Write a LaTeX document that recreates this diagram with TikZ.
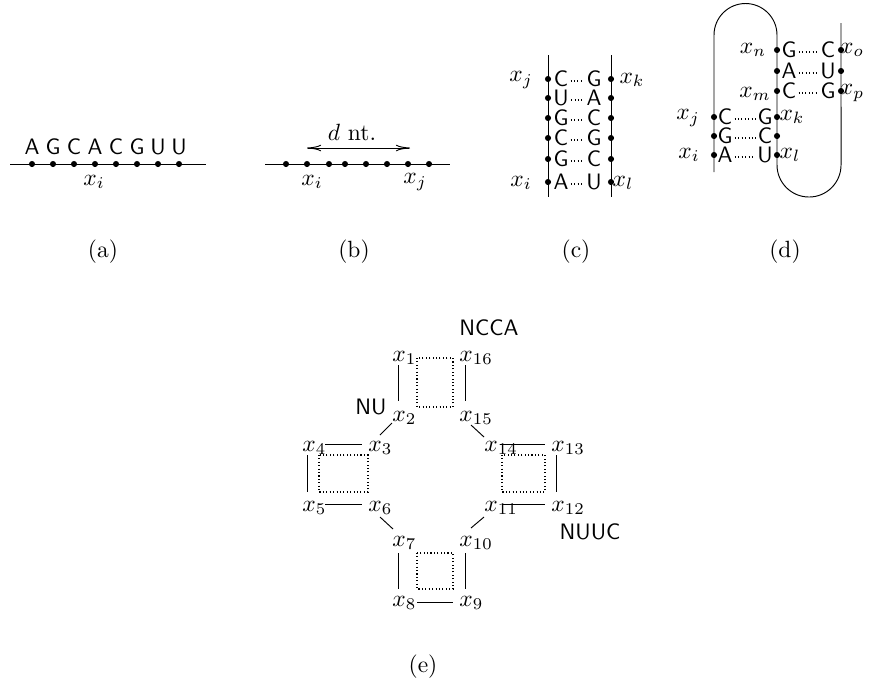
\documentclass[tikz,border=0pt]{standalone}
\usepackage{tikz}
\usetikzlibrary{arrows.meta, positioning}

\begin{document}
\begin{tikzpicture}[
    x=0.4255pt, y=-0.4255pt,
    nt/.style={circle, fill=black, inner sep=0pt, minimum size=2.6pt},
    base/.style={font=\fontsize{9.5}{11}\sffamily, inner sep=0pt},
    tag/.style={font=\fontsize{9.5}{11}\sffamily},
    lbl/.style={inner sep=0pt, anchor=west},
    strand/.style={line width=0.4pt},
    pair/.style={line width=0.45pt, dash pattern=on 0.45pt off 1pt},
    loopbox/.style={line width=0.45pt, dash pattern=on 0.45pt off 1pt},
    dist/.style={{To[length=6pt,width=2.8pt]}-{To[length=6pt,width=2.8pt]}, line width=0.4pt}
  ]
  \useasboundingbox (0,0) rectangle (869,686);

  % (a) sequence
  \coordinate (a0) at (10,164);
  \coordinate (a9) at (206,164);
  \draw[strand] (a0) -- (a9);
  \foreach \b [count=\k] in {A,G,C,A,C,G,U,U} {
    \node[nt] (a\k) at ({11+21*\k},164) {};
    \node[base] (ab\k) at ({11+21*\k},147) {\b};
  }
  \node (axi) at (94,182) {$x_i$};
  \node (capa) at (103,252) {(a)};

  % (b) distance
  \coordinate (b0) at (265,164);
  \coordinate (b9) at (450,164);
  \draw[strand] (b0) -- (b9);
  \foreach \x [count=\k] in {286,307,329,345,366,387,408,429}
    \node[nt] (b\k) at (\x,164) {};
  \node (bxi) at (312,182) {$x_i$};
  \node (bxj) at (415,182) {$x_j$};
  \draw[dist] ([shift={(0,-16)}]b2.center) -- ([shift={(2,-16)}]b7.center);
  \node (bd) at (352,132) {$d$ nt.};
  \node (capb) at (354,252) {(b)};

  % (c) helix
  \coordinate (c0) at (548,55);
  \coordinate (c9) at (548,197);
  \coordinate (c10) at (611,55);
  \coordinate (c19) at (611,197);
  \draw[strand] (c0) -- (c9);
  \draw[strand] (c10) -- (c19);
  \foreach \l/\r/\y [count=\k] in {C/G/79,U/A/98,G/C/118,C/G/138,G/C/159,A/U/182} {
    \node[nt] (cl\k) at (548,\y) {};
    \node[nt] (cr\k) at (611,\y) {};
    \node[base] (cbl\k) at (561,\y) {\l};
    \node[base] (cbr\k) at (594,\y) {\r};
    \draw[pair] ([shift={(2,2)}]cbl\k.east) -- ([shift={(-2,2)}]cbr\k.west);
  }
  \node (cxj) at (521,80) {$x_j$};
  \node (cxk) at (632,80) {$x_k$};
  \node (cxi) at (521,183) {$x_i$};
  \node (cxl) at (623,183) {$x_l$};
  \node (capc) at (576,252) {(c)};

  % (d) pseudoknot
  \coordinate (d0) at (714,172);
  \coordinate (d9) at (841,23);
  \draw[strand] (d0) -- (714,35) arc[start angle=180, end angle=0, radius=13.4pt]
    -- (777,165) arc[start angle=180, end angle=360, radius=13.62pt] -- (d9);
  \foreach \l/\r/\y [count=\k] in {G/C/50,A/U/71,C/G/91} {
    \node[nt] (dtl\k) at (777,\y) {};
    \node[nt] (dtr\k) at (841,\y) {};
    \node[base] (dtbl\k) at (789,\y) {\l};
    \node[base] (dtbr\k) at (828,\y) {\r};
    \draw[pair] ([shift={(2,2)}]dtbl\k.east) -- ([shift={(-2,2)}]dtbr\k.west);
  }
  \foreach \l/\r/\y [count=\k] in {C/G/117,G/C/136,A/U/155} {
    \node[nt] (dbl\k) at (714,\y) {};
    \node[nt] (dbr\k) at (777,\y) {};
    \node[base] (dbbl\k) at (725,\y) {\l};
    \node[base] (dbbr\k) at (765,\y) {\r};
    \draw[pair] ([shift={(2,2)}]dbbl\k.east) -- ([shift={(-2,2)}]dbbr\k.west);
  }
  \node (dxn) at (753,50) {$x_n$};
  \node (dxo) at (852,50) {$x_o$};
  \node (dxm) at (755,94) {$x_m$};
  \node (dxp) at (852,93) {$x_p$};
  \node (dxj) at (688,118) {$x_j$};
  \node (dxk) at (792,117) {$x_k$};
  \node (dxi) at (689,155) {$x_i$};
  \node (dxl) at (790,155) {$x_l$};
  \node (capd) at (785,252) {(d)};

  % (e) cloverleaf
  \node[lbl] (x1) at (392,358) {$x_{1}$};
  \node[lbl] (x16) at (459,358) {$x_{16}$};
  \node[lbl] (x2) at (392,418) {$x_{2}$};
  \node[lbl] (x15) at (459,418) {$x_{15}$};
  \node[lbl] (x4) at (302,448) {$x_{4}$};
  \node[lbl] (x3) at (368,448) {$x_{3}$};
  \node[lbl] (x14) at (484,448) {$x_{14}$};
  \node[lbl] (x13) at (551,448) {$x_{13}$};
  \node[lbl] (x5) at (302,508) {$x_{5}$};
  \node[lbl] (x6) at (368,508) {$x_{6}$};
  \node[lbl] (x11) at (484,508) {$x_{11}$};
  \node[lbl] (x12) at (551,508) {$x_{12}$};
  \node[lbl] (x7) at (392,543) {$x_{7}$};
  \node[lbl] (x10) at (459,543) {$x_{10}$};
  \node[lbl] (x8) at (392,603) {$x_{8}$};
  \node[lbl] (x9) at (459,603) {$x_{9}$};
  \node[tag] (ncca) at (489,328) {NCCA};
  \node[tag] (nu) at (371,407) {NU};
  \node[tag] (nuuc) at (590,532) {NUUC};

  \draw[strand] ([shift={(6,7)}]x1.west) -- ([shift={(6,-17)}]x2.west);
  \draw[strand] ([shift={(6,7)}]x16.west) -- ([shift={(6,-17)}]x15.west);
  \draw[strand] ([shift={(0,5)}]x2.west) -- ([shift={(12,-13)}]x3.west);
  \draw[strand] ([shift={(12,7)}]x15.west) -- ([shift={(0,-11)}]x14.west);
  \draw[strand] ([shift={(23,-4)}]x4.west) -- ([shift={(-6,-4)}]x3.west);
  \draw[strand] ([shift={(5,7)}]x4.west) -- ([shift={(5,-16)}]x5.west);
  \draw[strand] ([shift={(23,-4)}]x5.west) -- ([shift={(-6,-4)}]x6.west);
  \draw[strand] ([shift={(12,9)}]x6.west) -- ([shift={(1,-14)}]x7.west);
  \draw[strand] ([shift={(6,10)}]x7.west) -- ([shift={(6,-14)}]x8.west);
  \draw[strand] ([shift={(25,-1)}]x8.west) -- ([shift={(-6,-1)}]x9.west);
  \draw[strand] ([shift={(6,10)}]x10.west) -- ([shift={(6,-14)}]x9.west);
  \draw[strand] ([shift={(12,-15)}]x10.west) -- ([shift={(0,9)}]x11.west);
  \draw[strand] ([shift={(19,-4)}]x11.west) -- ([shift={(-6,-4)}]x12.west);
  \draw[strand] ([shift={(5,7)}]x13.west) -- ([shift={(5,-16)}]x12.west);
  \draw[strand] ([shift={(16,-4)}]x14.west) -- ([shift={(-6,-4)}]x13.west);

  \draw[loopbox] (417,358) rectangle (453,407);
  \draw[loopbox] (319,455) rectangle (368,492);
  \draw[loopbox] (417,553) rectangle (453,589);
  \draw[loopbox] (502,455) rectangle (545,492);
  \node (cape) at (423,667) {(e)};
\end{tikzpicture}
\end{document}
